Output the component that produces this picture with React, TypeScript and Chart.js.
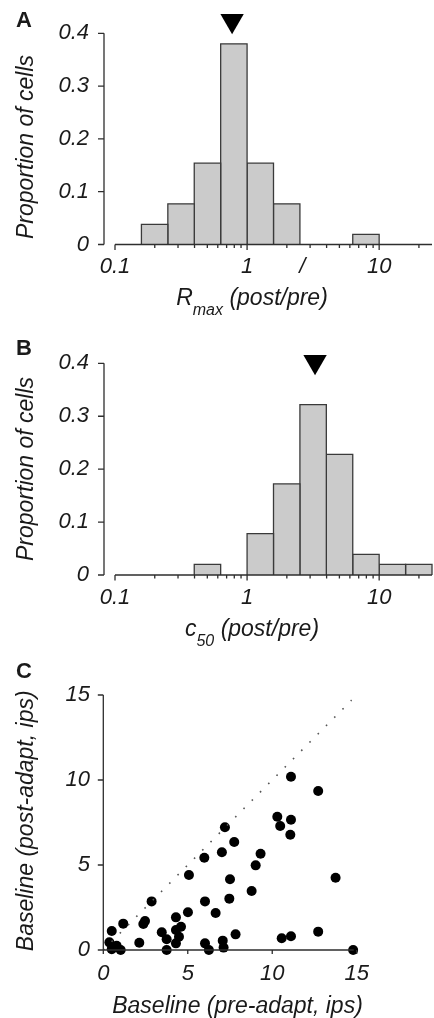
import React, { useEffect, useRef } from 'react';
import { Chart, registerables } from 'chart.js';

Chart.register(...registerables);

const FONT = '"Liberation Sans", Arial, Helvetica, sans-serif';
const TEXT_COLOR = '#1a1a1a';
const AXIS_COLOR = '#2e2e2e';
const BAR_FILL = '#cbcbcb';
const BAR_EDGE = '#3a3a3a';

// Histogram bins (log-spaced, 0.2 decade wide)
const BIN_EDGES = [0.1, 0.1585, 0.2512, 0.3981, 0.631, 1, 1.585, 2.512, 3.981, 6.31, 10, 15.85, 25.12];
const RMAX_PROPORTION = [0, 0.038, 0.077, 0.154, 0.38, 0.154, 0.077, 0, 0, 0.019, 0, 0];
const C50_PROPORTION = [0, 0, 0, 0.02, 0, 0.078, 0.172, 0.322, 0.228, 0.039, 0.02, 0.02];
const RMAX_MEDIAN = 0.77;
const C50_MEDIAN = 3.27;
const RMAX_MARKER_LEVEL = 0.424;
const C50_MARKER_LEVEL = 0.403;

const LOG_MAJOR_TICKS = [0.1, 1, 10];
const LOG_MINOR_TICKS = [0.2, 0.3, 0.4, 0.5, 0.6, 0.7, 0.8, 0.9, 2, 3, 4, 5, 6, 7, 8, 9, 20];
const PROPORTION_TICKS = [0, 0.1, 0.2, 0.3, 0.4];
const RMAX_EXTRA_LABELS = [{ value: 2.62, text: '/' }];

// Panel C: baseline firing rates (ips)
const PRE_BASELINE = [0.36, 0.5, 0.5, 0.79, 1.03, 1.18, 2.13, 2.37, 2.47, 2.86, 3.46, 3.75, 3.75, 4.3, 4.3, 4.3, 4.6, 4.48, 5.01, 5.07, 6.02, 5.98, 6.02, 6.25, 6.65, 7.02, 7.2, 7.07, 7.12, 7.46, 7.5, 7.75, 7.83, 8.78, 9.02, 9.31, 10.3, 10.47, 11.11, 11.07, 10.56, 11.11, 12.72, 12.72, 13.75, 14.79, 11.11];
const POST_BASELINE = [0.45, 1.12, 0.05, 0.25, 0, 1.55, 0.43, 1.53, 1.71, 2.86, 1.04, 0.63, 0, 1.92, 1.18, 0.39, 1.37, 0.78, 2.22, 4.41, 2.86, 5.43, 0.39, 0, 2.18, 5.75, 7.22, 0.55, 0.14, 3.02, 4.16, 6.35, 0.92, 3.47, 4.98, 5.66, 7.84, 7.29, 7.66, 6.78, 0.69, 0.81, 9.35, 1.08, 4.25, 0, 10.19];
const BASELINE_TICKS = [0, 5, 10, 15];
const UNITY_LINE = [0, 14.7];

type HistSpec = {
  letter: string;
  letterBaseline: number;
  proportions: number[];
  median: number;
  markerLevel: number;
  titleMain: string;
  titleSub: string;
  titleRest: string;
  extraLabels: { value: number; text: string }[];
  height: number;
  areaTop: number;
  areaBottom: number;
  yTitleCenter: number;
};

function drawSubscriptTitle(ctx: CanvasRenderingContext2D, main: string, sub: string, rest: string, cx: number, baseline: number) {
  const mainFont = `italic 23px ${FONT}`;
  const subFont = `italic 16px ${FONT}`;
  ctx.font = mainFont;
  const wMain = ctx.measureText(main).width;
  const wRest = ctx.measureText(rest).width;
  ctx.font = subFont;
  const wSub = ctx.measureText(sub).width;
  let x = cx - (wMain + wSub + wRest) / 2;
  ctx.textAlign = 'left';
  ctx.textBaseline = 'alphabetic';
  ctx.font = mainFont;
  ctx.fillText(main, x, baseline);
  x += wMain;
  ctx.font = subFont;
  ctx.fillText(sub, x, baseline + 10);
  x += wSub;
  ctx.font = mainFont;
  ctx.fillText(rest, x, baseline);
}

function histogramConfig(spec: HistSpec): any {
  const datasets: any[] = [];
  spec.proportions.forEach((p, i) => {
    if (p <= 0) return;
    const lo = BIN_EDGES[i];
    const hi = BIN_EDGES[i + 1];
    datasets.push({
      data: [
        { x: lo, y: 0 },
        { x: lo, y: p },
        { x: hi, y: p },
        { x: hi, y: 0 },
      ],
      showLine: true,
      fill: 'origin',
      backgroundColor: BAR_FILL,
      borderColor: BAR_EDGE,
      borderWidth: 1.3,
      pointRadius: 0,
      tension: 0,
      clip: false,
    });
  });
  datasets.push({
    data: [{ x: spec.median, y: spec.markerLevel }],
    pointStyle: 'triangle',
    rotation: 180,
    pointRadius: 13.5,
    backgroundColor: '#000',
    borderWidth: 0,
    showLine: false,
    clip: false,
  });

  const labelValues = [...LOG_MAJOR_TICKS, ...spec.extraLabels.map((e) => e.value)];

  const decor = {
    id: 'histDecor',
    afterDatasetsDraw(chart: any) {
      const ctx: CanvasRenderingContext2D = chart.ctx;
      const xs = chart.scales.x;
      const ys = chart.scales.y;
      const ca = chart.chartArea;
      ctx.save();
      ctx.strokeStyle = AXIS_COLOR;
      ctx.lineWidth = 1.3;
      // y axis (offset to the left)
      const yAxisX = ca.left - 11;
      ctx.beginPath();
      ctx.moveTo(yAxisX, ys.getPixelForValue(PROPORTION_TICKS[PROPORTION_TICKS.length - 1]));
      ctx.lineTo(yAxisX, ys.getPixelForValue(0));
      PROPORTION_TICKS.forEach((v) => {
        const y = ys.getPixelForValue(v);
        ctx.moveTo(yAxisX - 6, y);
        ctx.lineTo(yAxisX, y);
      });
      ctx.stroke();
      // x axis
      const y0 = ys.getPixelForValue(0);
      ctx.beginPath();
      ctx.moveTo(xs.getPixelForValue(LOG_MAJOR_TICKS[0]), y0);
      ctx.lineTo(ca.right, y0);
      LOG_MAJOR_TICKS.forEach((v) => {
        const x = xs.getPixelForValue(v);
        ctx.moveTo(x, y0);
        ctx.lineTo(x, y0 + 5.5);
      });
      LOG_MINOR_TICKS.forEach((v) => {
        const x = xs.getPixelForValue(v);
        ctx.moveTo(x, y0);
        ctx.lineTo(x, y0 + 3.5);
      });
      ctx.stroke();

      ctx.fillStyle = TEXT_COLOR;
      // panel letter
      ctx.font = `bold 22px ${FONT}`;
      ctx.textAlign = 'left';
      ctx.textBaseline = 'alphabetic';
      ctx.fillText(spec.letter, 16, spec.letterBaseline);
      // y title
      ctx.save();
      ctx.translate(27, spec.yTitleCenter);
      ctx.rotate(-Math.PI / 2);
      ctx.font = `italic 23px ${FONT}`;
      ctx.textAlign = 'center';
      ctx.textBaseline = 'middle';
      ctx.fillText('Proportion of cells', 0, 0);
      ctx.restore();
      // x title
      drawSubscriptTitle(ctx, spec.titleMain, spec.titleSub, spec.titleRest, 252, ca.bottom + 60.5);
      ctx.restore();
    },
  };

  return {
    type: 'scatter',
    data: { datasets },
    options: {
      animation: false,
      responsive: false,
      devicePixelRatio: 1,
      events: [],
      layout: { autoPadding: false, padding: { top: spec.areaTop, right: 2, left: 0, bottom: 0 } },
      plugins: { legend: { display: false }, tooltip: { enabled: false } },
      scales: {
        x: {
          type: 'logarithmic',
          min: BIN_EDGES[0],
          max: BIN_EDGES[BIN_EDGES.length - 1],
          grid: { display: false, drawTicks: false },
          border: { display: false },
          afterBuildTicks: (s: any) => {
            s.ticks = labelValues.map((v) => ({ value: v }));
          },
          afterFit: (s: any) => {
            s.height = spec.height - spec.areaBottom;
            s.paddingLeft = 0;
            s.paddingRight = 0;
          },
          ticks: {
            autoSkip: false,
            maxRotation: 0,
            padding: 9.3,
            color: TEXT_COLOR,
            font: { family: FONT, size: 22, style: 'italic' },
            callback: (v: any) => {
              const extra = spec.extraLabels.find((e) => Math.abs(e.value - v) < 1e-9);
              if (extra) return extra.text;
              return String(v);
            },
          },
        },
        y: {
          type: 'linear',
          min: 0,
          max: PROPORTION_TICKS[PROPORTION_TICKS.length - 1],
          grid: { display: false, drawTicks: false },
          border: { display: false },
          afterBuildTicks: (s: any) => {
            s.ticks = PROPORTION_TICKS.map((v) => ({ value: v }));
          },
          afterFit: (s: any) => {
            s.width = 115;
            s.paddingTop = 0;
            s.paddingBottom = 0;
          },
          ticks: {
            padding: 26,
            color: TEXT_COLOR,
            font: { family: FONT, size: 22, style: 'italic' },
            callback: (v: any) => (v === 0 ? '0' : Number(v).toFixed(1)),
          },
        },
      },
    },
    plugins: [decor],
  };
}

function scatterConfig(height: number): any {
  const areaTop = 55;
  const areaBottom = 310;
  const areaLeft = 103.3;
  const areaRight = 356.7;

  const decor = {
    id: 'scatterDecor',
    afterDatasetsDraw(chart: any) {
      const ctx: CanvasRenderingContext2D = chart.ctx;
      const xs = chart.scales.x;
      const ys = chart.scales.y;
      const x0 = xs.getPixelForValue(0);
      const y0 = ys.getPixelForValue(0);
      ctx.save();
      ctx.strokeStyle = AXIS_COLOR;
      ctx.lineWidth = 1.3;
      ctx.beginPath();
      ctx.moveTo(x0, ys.getPixelForValue(BASELINE_TICKS[BASELINE_TICKS.length - 1]));
      ctx.lineTo(x0, y0);
      ctx.lineTo(xs.getPixelForValue(BASELINE_TICKS[BASELINE_TICKS.length - 1]) - 3, y0);
      BASELINE_TICKS.forEach((v) => {
        const y = ys.getPixelForValue(v);
        ctx.moveTo(x0 - 5.5, y);
        ctx.lineTo(x0, y);
        const x = xs.getPixelForValue(v);
        ctx.moveTo(x, y0);
        ctx.lineTo(x, y0 + 4);
      });
      ctx.stroke();
      ctx.restore();
    },
    afterDraw(chart: any) {
      const ctx: CanvasRenderingContext2D = chart.ctx;
      const ca = chart.chartArea;
      ctx.save();
      ctx.fillStyle = TEXT_COLOR;
      ctx.font = `bold 22px ${FONT}`;
      ctx.textAlign = 'left';
      ctx.textBaseline = 'alphabetic';
      ctx.fillText('C', 16, 38);
      ctx.save();
      ctx.translate(27, 180.8);
      ctx.rotate(-Math.PI / 2);
      ctx.font = `italic 23px ${FONT}`;
      ctx.textAlign = 'center';
      ctx.textBaseline = 'middle';
      ctx.fillText('Baseline (post-adapt, ips)', 0, 0);
      ctx.restore();
      ctx.font = `italic 23px ${FONT}`;
      ctx.textAlign = 'center';
      ctx.textBaseline = 'alphabetic';
      ctx.fillText('Baseline (pre-adapt, ips)', 237.5, ca.bottom + 63);
      ctx.restore();
    },
  };

  return {
    type: 'scatter',
    data: {
      datasets: [
        {
          data: [
            { x: UNITY_LINE[0], y: UNITY_LINE[0] },
            { x: UNITY_LINE[1], y: UNITY_LINE[1] },
          ],
          showLine: true,
          borderColor: '#555',
          borderWidth: 1.6,
          borderDash: [1.6, 10.1],
          borderCapStyle: 'butt',
          pointRadius: 0,
          clip: false,
        },
        {
          data: PRE_BASELINE.map((x, i) => ({ x, y: POST_BASELINE[i] })),
          pointRadius: 5,
          backgroundColor: '#000',
          borderWidth: 0,
          clip: false,
        },
      ],
    },
    options: {
      animation: false,
      responsive: false,
      devicePixelRatio: 1,
      events: [],
      layout: { autoPadding: false, padding: { top: areaTop, right: 434 - areaRight, left: 0, bottom: 0 } },
      plugins: { legend: { display: false }, tooltip: { enabled: false } },
      scales: {
        x: {
          type: 'linear',
          min: 0,
          max: 15,
          grid: { display: false, drawTicks: false },
          border: { display: false },
          afterBuildTicks: (s: any) => {
            s.ticks = BASELINE_TICKS.map((v) => ({ value: v }));
          },
          afterFit: (s: any) => {
            s.height = height - areaBottom;
            s.paddingLeft = 0;
            s.paddingRight = 0;
          },
          ticks: {
            autoSkip: false,
            maxRotation: 0,
            padding: 10.3,
            color: TEXT_COLOR,
            font: { family: FONT, size: 22, style: 'italic' },
          },
        },
        y: {
          type: 'linear',
          min: 0,
          max: 15,
          grid: { display: false, drawTicks: false },
          border: { display: false },
          afterBuildTicks: (s: any) => {
            s.ticks = BASELINE_TICKS.map((v) => ({ value: v }));
          },
          afterFit: (s: any) => {
            s.width = areaLeft;
            s.paddingTop = 0;
            s.paddingBottom = 0;
          },
          ticks: {
            padding: 13.3,
            color: TEXT_COLOR,
            font: { family: FONT, size: 22, style: 'italic' },
          },
        },
      },
    },
    plugins: [decor],
  };
}

const PANEL_A_TOP = 0;
const PANEL_A_H = 320;
const PANEL_B_TOP = 320;
const PANEL_B_H = 345;
const PANEL_C_TOP = 640;
const PANEL_C_H = 378;

export default function App() {
  const refA = useRef<HTMLCanvasElement | null>(null);
  const refB = useRef<HTMLCanvasElement | null>(null);
  const refC = useRef<HTMLCanvasElement | null>(null);

  useEffect(() => {
    const charts: Chart[] = [];
    if (refA.current) {
      charts.push(
        new Chart(
          refA.current,
          histogramConfig({
            letter: 'A',
            letterBaseline: 27,
            proportions: RMAX_PROPORTION,
            median: RMAX_MEDIAN,
            markerLevel: RMAX_MARKER_LEVEL,
            titleMain: 'R',
            titleSub: 'max',
            titleRest: ' (post/pre)',
            extraLabels: RMAX_EXTRA_LABELS,
            height: PANEL_A_H,
            areaTop: 33.3,
            areaBottom: 244.5,
            yTitleCenter: 147,
          })
        )
      );
    }
    if (refB.current) {
      charts.push(
        new Chart(
          refB.current,
          histogramConfig({
            letter: 'B',
            letterBaseline: 35,
            proportions: C50_PROPORTION,
            median: C50_MEDIAN,
            markerLevel: C50_MARKER_LEVEL,
            titleMain: 'c',
            titleSub: '50',
            titleRest: ' (post/pre)',
            extraLabels: [],
            height: PANEL_B_H,
            areaTop: 43.3,
            areaBottom: 255,
            yTitleCenter: 149,
          })
        )
      );
    }
    if (refC.current) {
      charts.push(new Chart(refC.current, scatterConfig(PANEL_C_H)));
    }
    return () => {
      charts.forEach((c) => c.destroy());
    };
  }, []);

  const canvasStyle = (top: number, h: number): React.CSSProperties => ({
    position: 'absolute',
    left: 0,
    top,
    width: 434,
    height: h,
    display: 'block',
  });

  return (
    <div style={{ position: 'absolute', left: 0, top: 0, width: 434, height: 1018, background: '#fff' }}>
      <canvas ref={refA} width={434} height={PANEL_A_H} style={canvasStyle(PANEL_A_TOP, PANEL_A_H)} />
      <canvas ref={refB} width={434} height={PANEL_B_H} style={canvasStyle(PANEL_B_TOP, PANEL_B_H)} />
      <canvas ref={refC} width={434} height={PANEL_C_H} style={canvasStyle(PANEL_C_TOP, PANEL_C_H)} />
    </div>
  );
}
